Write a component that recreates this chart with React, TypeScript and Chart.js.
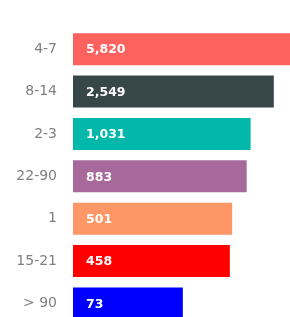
import React, { useEffect, useRef } from "react";
import { Chart, registerables } from "chart.js";

Chart.register(...registerables);

const categories = ["4-7", "8-14", "2-3", "22-90", "1", "15-21", "> 90"];
const values = [5820, 2549, 1031, 883, 501, 458, 73];
const valueLabels = ["5,820", "2,549", "1,031", "883", "501", "458", "73"];
const colors = ["#FD625E", "#374649", "#01B8AA", "#A66999", "#FE9666", "#FF0000", "#0000FF"];

const valueLabelPlugin = {
  id: "valueLabels",
  afterDatasetsDraw(chart: any) {
    const ctx = chart.ctx;
    const meta = chart.getDatasetMeta(0);
    ctx.save();
    ctx.font = "bold 12.5px 'DejaVu Sans'";
    ctx.fillStyle = "#ffffff";
    ctx.textAlign = "left";
    ctx.textBaseline = "middle";
    meta.data.forEach((bar: any, i: number) => {
      ctx.fillText(valueLabels[i], bar.base + 13, bar.y + 1);
    });
    ctx.restore();
  },
};

export default function App() {
  const ref = useRef<HTMLCanvasElement>(null);
  useEffect(() => {
    if (!ref.current) return;
    const chart = new Chart(ref.current, {
      type: "bar",
      data: {
        labels: categories,
        datasets: [
          {
            data: values,
            backgroundColor: colors,
            borderWidth: 0,
            categoryPercentage: 1,
            barPercentage: 0.755,
          },
        ],
      },
      options: {
        indexAxis: "y",
        responsive: false,
        animation: false,
        layout: { padding: { top: 28, right: 0, bottom: 0, left: 0 } },
        plugins: { legend: { display: false }, tooltip: { enabled: false } },
        scales: {
          x: { type: "logarithmic", min: 1, max: 4800, display: false },
          y: {
            grid: { display: false, drawTicks: false },
            border: { display: false },
            ticks: {
              padding: 16,
              color: "#808080",
              font: { family: "'DejaVu Sans'", size: 14 },
            },
            afterFit: (s: any) => {
              s.width = 73;
            },
          },
        },
      },
      plugins: [valueLabelPlugin],
    });
    return () => chart.destroy();
  }, []);
  return (
    <div style={{ position: "fixed", left: 0, top: 0, width: 290, height: 317, overflow: "hidden", background: "#fff" }}>
      <canvas ref={ref} width={290} height={349} style={{ display: "block" }} />
    </div>
  );
}
